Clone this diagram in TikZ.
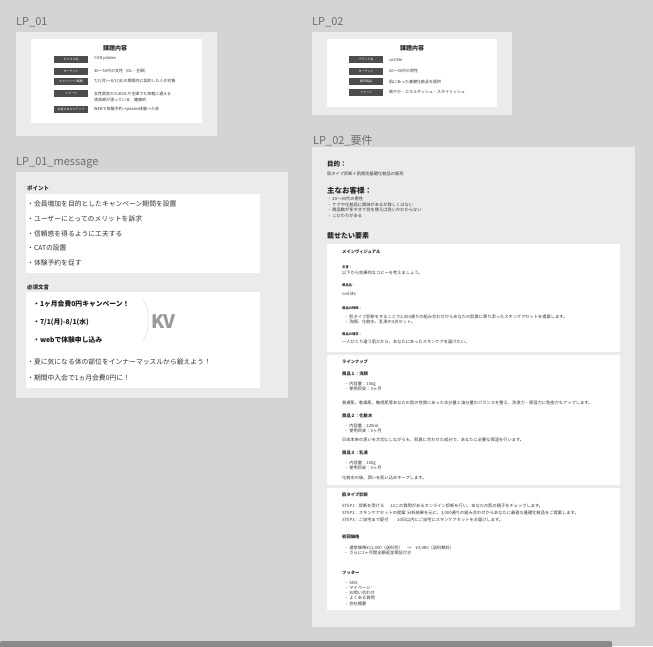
\documentclass[tikz,border=0pt]{standalone}
\usepackage{fontspec}
\setmainfont{Noto Sans CJK JP}

\definecolor{bggray}{HTML}{D4D4D4}
\definecolor{panelgray}{HTML}{EBEBEB}
\definecolor{taggray}{HTML}{4D4D4D}
\definecolor{textgray}{HTML}{333333}
\definecolor{labelgray}{HTML}{6E6E6E}
\definecolor{kvgray}{HTML}{999999}
\definecolor{scrollgray}{HTML}{8A8A8A}

\begin{document}
\begin{tikzpicture}[x=1pt,y=-1pt,
  title/.style={anchor=west,inner sep=0,text=labelgray,font=\fontsize{11}{13}\selectfont},
  panelbox/.style={fill=panelgray},
  cardbox/.style={fill=white},
  tagbox/.style={fill=taggray,text=white,inner sep=0,minimum width=34pt,minimum height=7pt,font=\fontsize{3}{3.5}\selectfont},
  body/.style={anchor=west,inner sep=0,text=textgray,font=\fontsize{4}{5}\selectfont},
  note/.style={anchor=west,inner sep=0,text=textgray,font=\fontsize{4.25}{5}\selectfont},
  head/.style={anchor=west,inner sep=0,text=black!85,font=\fontsize{4.3}{5}\selectfont\bfseries},
  tiny/.style={anchor=west,inner sep=0,text=black!85,font=\fontsize{3.3}{4}\selectfont\bfseries},
  msg/.style={anchor=west,inner sep=0,text=textgray,font=\fontsize{6.8}{8}\selectfont},
  big/.style={anchor=west,inner sep=0,text=black!90,font=\fontsize{6.8}{8}\selectfont\bfseries}]
\useasboundingbox (0,0) rectangle (653,646);
\fill[bggray] (0,0) rectangle (653,646);

% LP_01
\node[title] (lp1) at (16,22) {LP\_01};
\fill[panelbox] (16,32) rectangle (217,136);
\fill[cardbox] (31,39) rectangle (202,123);
\node[text=black!85,font=\fontsize{6}{7}\selectfont\bfseries] (lp1head) at (115,48) {課題内容};
\node[tagbox] (lp1t1) at (71,59) {ビジネス名};
\node[tagbox] (lp1t2) at (71,71) {ターゲット};
\node[tagbox] (lp1t3) at (71,81.5) {キャンペーン期間};
\node[tagbox] (lp1t4) at (71,93.5) {イメージ};
\node[tagbox] (lp1t5) at (71,109.5) {お客さまのステップ};
\node[body] (lp1v1) at (94,58) {CON pilates};
\node[body] (lp1v2) at (94,70.5) {30〜50代の女性（OL・主婦）};
\node[body] (lp1v3) at (94,81) {7/1(月)〜8/1(水)の期間内に契約した人が対象};
\node[body] (lp1v4) at (94,93.5) {女性限定のためOLや主婦でも気軽に通える};
\node[body] (lp1v5) at (94,99.5) {清潔感が漂っている\quad 健康的};
\node[body] (lp1v6) at (94,109.5) {WEBで体験予約→pilates体験→入会};

% LP_02
\node[title] (lp2) at (312,22) {LP\_02};
\fill[panelbox] (312,32) rectangle (512,115);
\fill[cardbox] (327,39) rectangle (497,107);
\node[text=black!85,font=\fontsize{6}{7}\selectfont\bfseries] (lp2head) at (412,48) {課題内容};
\node[tagbox] (lp2t1) at (366,59.5) {ブランド名};
\node[tagbox] (lp2t2) at (366,71) {ターゲット};
\node[tagbox] (lp2t3) at (366,81.5) {販売商品};
\node[tagbox] (lp2t4) at (366,92) {イメージ};
\node[body] (lp2v1) at (389,59.5) {coil Me};
\node[body] (lp2v2) at (389,71) {20〜30代の男性};
\node[body] (lp2v3) at (389,81.5) {肌にあった基礎化粧品を提供};
\node[body] (lp2v4) at (389,92) {爽やか・エネルギッシュ・スタイリッシュ};

% LP_01_message
\node[title] (lp1msg) at (16,163) {LP\_01\_message};
\fill[panelbox] (16,172) rectangle (288,398);
\node[head,font=\fontsize{5.5}{6}\selectfont\bfseries] (pointhead) at (27,188) {ポイント};
\fill[cardbox] (26,194) rectangle (260,273);
\node[msg] (pt1) at (27,204) {・会員増加を目的としたキャンペーン期間を設置};
\node[msg] (pt2) at (27,219) {・ユーザーにとってのメリットを訴求};
\node[msg] (pt3) at (27,234) {・信頼感を得るように工夫する};
\node[msg] (pt4) at (27,248) {・CATの設置};
\node[msg] (pt5) at (27,263) {・体験予約を促す};
\node[head,font=\fontsize{5.5}{6}\selectfont\bfseries] (musthead) at (27,287) {必須文言};
\fill[cardbox] (26,292) rectangle (260,388);
\node[big] (kv1) at (33,304) {・1ヶ月会費0円キャンペーン！};
\node[big] (kv2) at (33,322) {・7/1(月)-8/1(水)};
\node[big] (kv3) at (33,340) {・webで体験申し込み};
\draw[black!15,line width=0.5pt] (143,300) .. controls (150,306) and (150,335) .. (143,341);
\node[anchor=west,inner sep=0,text=kvgray,font=\fontsize{18.5}{20}\selectfont\bfseries] (kv) at (151,322) {KV};
\node[msg] (ms1) at (27,362) {・夏に気になる体の部位をインナーマッスルから鍛えよう！};
\node[msg] (ms2) at (27,378) {・期間中入会で1ヵ月会費0円に！};

% LP_02_要件
\node[title] (lp2req) at (313,141) {LP\_02\_要件};
\fill[panelbox] (312,147) rectangle (635,627);
\node[head,font=\fontsize{6.5}{7}\selectfont\bfseries] (aimhead) at (327,164) {目的：};
\node[note] (aimtxt) at (327,174) {肌タイプ診断＋肌質別基礎化粧品の販売};
\node[head,font=\fontsize{7.5}{8}\selectfont\bfseries] (userhead) at (327,191) {主なお客様：};
\node[note] (user1) at (327,199) {・ 20〜30代の男性};
\node[note] (user2) at (327,204.5) {・ ケアや化粧品に興味があるが詳しくはない};
\node[note] (user3) at (327,210) {・ 商品数が多すぎて何を使えば良いかわからない};
\node[note] (user4) at (327,215.5) {・ こだわりがある};
\node[head,font=\fontsize{7}{8}\selectfont\bfseries] (elemhead) at (327,236) {載せたい要素};

% メインヴィジュアル
\fill[cardbox] (327,244) rectangle (620,352);
\node[head] (mvhead) at (342,252) {メインヴィジュアル};
\node[tiny] (wordlbl) at (342,267) {文言：};
\node[note] (wordtxt) at (342,273) {以下から効果的なコピーを考えましょう。};
\node[tiny] (namelbl) at (342,285) {商品名：};
\node[note] (nametxt) at (342,294) {coil Me};
\node[tiny] (featlbl) at (342,308) {商品の特徴：};
\node[note] (feat1) at (344,317) {・ 肌タイプ診断をすることで2,000通りの組み合わせからあなたの肌質に寄り添ったスキンケアセットを提案します。};
\node[note] (feat2) at (344,322) {・ 洗顔、化粧水、乳液の3点セット。};
\node[tiny] (idealbl) at (342,334) {商品の理念：};
\node[note] (ideatxt) at (342,342) {一人ひとり違う肌だから、あなたにあったスキンケアを届けたい。};

% ラインナップ
\fill[cardbox] (327,355) rectangle (620,485);
\node[head] (luhead) at (342,362) {ラインナップ};
\node[head] (p1head) at (342,374) {商品１：洗顔};
\node[note] (p1a) at (344,384) {・ 内容量：150g};
\node[note] (p1b) at (344,389) {・ 使用目安：3ヶ月};
\node[note] (p1txt) at (342,403) {普通肌、乾燥肌、敏感肌等あなたの肌の性質にあった水分量と油分量のバランスを整え、洗浄力・保湿力に免疫力もアップします。};
\node[head] (p2head) at (342,416) {商品２：化粧水};
\node[note] (p2a) at (344,426) {・ 内容量：220ml};
\node[note] (p2b) at (344,431) {・ 使用目安：3ヶ月};
\node[note] (p2txt) at (342,440) {日本本来の思いを大切にしながらも、肌質に合わせた成分で、あなたに必要な保湿を行います。};
\node[head] (p3head) at (342,453) {商品３：乳液};
\node[note] (p3a) at (344,463) {・ 内容量：100g};
\node[note] (p3b) at (344,468) {・ 使用目安：3ヶ月};
\node[note] (p3txt) at (342,478) {化粧水の後、潤いを肌に込めキープします。};

% 肌タイプ診断・初回価格・フッター
\fill[cardbox] (327,488) rectangle (620,610);
\node[head] (diaghead) at (342,495) {肌タイプ診断};
\node[note] (step1a) at (342,506) {STEP1：診断を受ける};
\node[note] (step1b) at (390,506) {12この質問があるオンライン診断を行い、あなたの肌の調子をチェックします。};
\node[note] (step2a) at (342,513) {STEP2：スキンケアセットの提案};
\node[note] (step2b) at (407,513) {分析結果を元に、3,000通りの組み合わせからあなたに最適な基礎化粧品をご提案します。};
\node[note] (step3a) at (342,520) {STEP3：ご自宅まで配付};
\node[note] (step3b) at (397,520) {10日以内にご自宅にスキンケアセットをお届けします。};
\node[head] (pricehead) at (342,537) {初回価格};
\node[note] (price1) at (344,548) {・ 通常価格¥11,000（送料別）\quad →\quad ¥3,980（送料無料）};
\node[note] (price2) at (344,553) {・ さらに1ヶ月間全額返金保証付き};
\node[head] (foothead) at (342,573) {フッター};
\node[note] (foot1) at (344,583) {・ SNS};
\node[note] (foot2) at (344,588) {・ マイページ};
\node[note] (foot3) at (344,593) {・ お問い合わせ};
\node[note] (foot4) at (344,598) {・ よくある質問};
\node[note] (foot5) at (344,603.5) {・ 会社概要};

% スクロールバー
\fill[scrollgray,rounded corners=2pt] (0,641) rectangle (612,649);
\end{tikzpicture}
\end{document}
